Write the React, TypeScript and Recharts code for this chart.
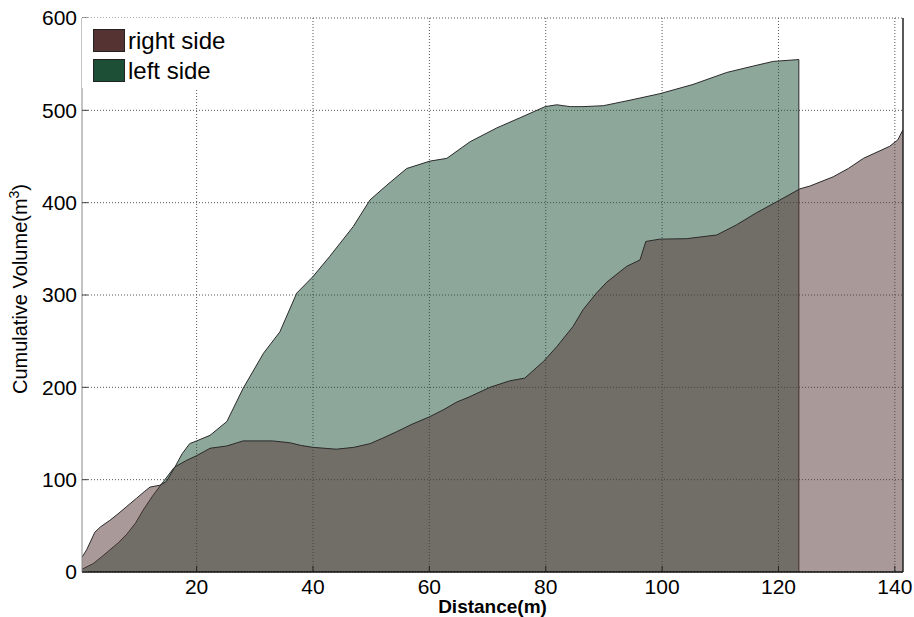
import React from "react";
import {
  AreaChart,
  Area,
  XAxis,
  YAxis,
  CartesianGrid,
  Legend,
  ReferenceLine,
} from "recharts";

// distance (m) and cumulative volume (m^3)
const rightX = [
  0.3, 1.1, 2.5, 3.5, 5.1, 6.5, 8, 9.7, 11, 12, 13.7, 14.8, 16.3, 18.3, 20,
  22.3, 25.2, 28, 33, 36, 38, 40, 44, 47, 49.8, 52, 54.4, 57, 60, 62.5, 64.7,
  67, 70.4, 73.8, 76.4, 79.6, 81.9, 84.7, 86.4, 88.7, 90.5, 93.9, 96.2, 97.2,
  99.6, 104.2, 109.4, 112.8, 116.2, 119.7, 123.7, 125.4, 129.4, 132, 134.6,
  139.1, 140.5, 141.4,
];
const rightY = [
  16, 24, 43, 49, 56, 63, 71, 80, 87, 92, 94, 98, 114, 121, 126, 134, 136.5,
  142, 142, 140, 137, 135, 133, 135, 139, 145, 152, 160, 168, 176, 184, 190,
  200, 207, 210, 228, 244, 266, 284, 302, 314, 331, 338, 358, 360.5, 361, 365,
  376, 389, 401, 415, 418, 428, 437, 448, 461, 468, 479,
];

const leftX = [
  0.3, 2.2, 3.6, 5.1, 6.6, 8, 9.5, 10.8, 12.5, 14.3, 16, 16.3, 17.5, 18.8, 20,
  22.3, 25.2, 28, 31.5, 34.3, 37.2, 40, 42.9, 46.9, 49.8, 52.7, 56.1, 60.1, 63,
  67, 71.6, 75.6, 79.9, 81.9, 84.2, 86.4, 89.9, 94.5, 99.6, 105.3, 111.1,
  115.7, 119.1, 123.5, 123.5,
];
const leftY = [
  3, 9, 16, 24, 32, 41, 53, 67, 83, 98, 112, 114, 128, 139, 142, 148, 163, 199,
  237, 260, 302, 320, 342, 374, 403, 419, 437, 445, 448, 466, 481, 492, 504,
  506, 504, 504, 505, 511, 518, 528, 541, 548, 553, 555, 0,
];

const xTicks = [20, 40, 60, 80, 100, 120, 140];
const yTicks = [0, 100, 200, 300, 400, 500, 600];

const legendItems = [
  { label: "right side", color: "#553333" },
  { label: "left side", color: "#1c4f36" },
];

const rightData = rightX.map((x, i) => ({ x, v: rightY[i] }));
const leftData = leftX.map((x, i) => ({ x, v: leftY[i] }));

const FONT = "'Liberation Sans', Arial, Helvetica, sans-serif";

const renderLegend = () => (
  <div
    style={{
      width: 158,
      height: 70,
      background: "#fff",
      fontFamily: FONT,
      fontSize: 24,
      position: "relative",
    }}
  >
    {legendItems.map((it, i) => (
      <div
        key={it.label}
        style={{
          position: "absolute",
          left: 11,
          top: 11 + i * 30,
          display: "flex",
          alignItems: "center",
          height: 23,
        }}
      >
        <span
          style={{
            width: 32,
            height: 23,
            background: it.color,
            border: "1px solid #222",
            boxSizing: "border-box",
            display: "inline-block",
          }}
        />
        <span style={{ marginLeft: 3, lineHeight: "23px", color: "#000" }}>
          {it.label}
        </span>
      </div>
    ))}
  </div>
);

const YLabel = () => (
  <text
    x={0}
    y={0}
    transform="translate(27, 289) rotate(-90)"
    textAnchor="middle"
    fontFamily={FONT}
    fontSize={20}
    fill="#000"
  >
    Cumulative Volume(m<tspan dy={-8} fontSize={14}>3</tspan>
    <tspan dy={8}>)</tspan>
  </text>
);

export default function App() {
  return (
    <div style={{ position: "absolute", left: 0, top: 0, background: "#fff" }}>
      <AreaChart
        width={914}
        height={617}
        margin={{ top: 18, right: 11, bottom: 0, left: 0 }}
      >
        <CartesianGrid
          stroke="#555"
          strokeDasharray="1 2"
          horizontalValues={yTicks}
          verticalValues={xTicks}
        />
        <XAxis
          type="number"
          dataKey="x"
          domain={[0.3, 141.4]}
          ticks={xTicks}
          allowDataOverflow
          height={45}
          tickSize={-6}
          tickMargin={13}
          tickLine={{ stroke: "#222" }}
          axisLine={{ stroke: "#111", strokeWidth: 1.5 }}
          tick={{ fontFamily: FONT, fontSize: 21, fill: "#000" }}
          label={{
            value: "Distance(m)",
            position: "insideBottom",
            offset: 4,
            style: {
              fontFamily: FONT,
              fontSize: 19,
              fontWeight: "bold",
              fill: "#000",
            },
          }}
        />
        <YAxis
          type="number"
          domain={[0, 600]}
          ticks={yTicks}
          width={82}
          tickSize={-6}
          tickMargin={11}
          tickLine={{ stroke: "#444" }}
          axisLine={{ stroke: "#888" }}
          tick={{ fontFamily: FONT, fontSize: 21, fill: "#000" }}
          label={<YLabel />}
        />
        <Area
          data={leftData}
          dataKey="v"
          name="left side"
          type="linear"
          fill="#1c4f36"
          fillOpacity={0.5}
          stroke="#2a2a2a"
          strokeWidth={1}
          isAnimationActive={false}
        />
        <Area
          data={rightData}
          dataKey="v"
          name="right side"
          type="linear"
          fill="#553333"
          fillOpacity={0.5}
          stroke="#2a2a2a"
          strokeWidth={1}
          isAnimationActive={false}
        />
        <ReferenceLine x={141.4} stroke="#222" strokeWidth={1.5} />
        <Legend
          verticalAlign="middle"
          align="center"
          layout="horizontal"
          content={renderLegend}
          wrapperStyle={{ left: 82, top: 18, width: 158, height: 70 }}
        />
      </AreaChart>
    </div>
  );
}
